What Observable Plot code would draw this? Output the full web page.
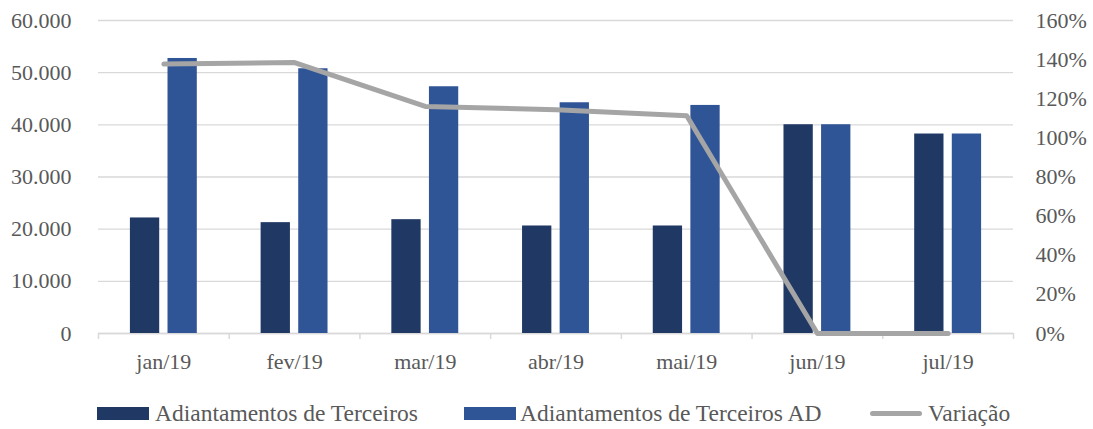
<!DOCTYPE html>
<html>
<head>
<meta charset="utf-8">
<script src="https://cdn.jsdelivr.net/npm/d3@7"></script>
<script src="https://cdn.jsdelivr.net/npm/@observablehq/plot@0.6"></script>
<style>
  body { margin: 0; background: #fff; font-family: "Liberation Serif", serif; }
  #wrap { position: relative; width: 1093px; height: 429px; }
  #legend { position: absolute; left: 0; top: 380px; width: 1093px; height: 49px; color: #595959; font-size: 23.5px; }
  .sw { position: absolute; top: 27px; height: 13px; width: 52px; }
  .ln { position: absolute; top: 31px; height: 5px; width: 52px; border-radius: 3px; }
  .tx { position: absolute; top: 21px; line-height: 24px; white-space: nowrap; }
</style>
</head>
<body>
<div id="wrap">
  <div id="chart"></div>
  <div id="legend"></div>
</div>
<script>
const months = ["jan/19", "fev/19", "mar/19", "abr/19", "mai/19", "jun/19", "jul/19"];
const terceiros = [22150, 21250, 21820, 20610, 20610, 40020, 38240];
const terceirosAD = [52720, 50750, 47300, 44230, 43720, 40020, 38240];
const variacao = [137.7, 138.5, 116.1, 114.4, 111.3, 0, 0];
const leftTicks = [0, 10000, 20000, 30000, 40000, 50000, 60000];
const rightTicks = [0, 20, 40, 60, 80, 100, 120, 140, 160];
const seriesNames = ["Adiantamentos de Terceiros", "Adiantamentos de Terceiros AD", "Variação"];
const colors = ["#203864", "#2f5597", "#a5a5a5"];

const W = 1093, H = 380, mL = 98, mR = 80, mT = 20, mB = 47;
const yMax = 60000, pMax = 160;
const step = (W - mL - mR) / months.length;
const barW = 29.3, gap = 8.3;
const outer = (step - 2 * barW - gap) / 2;

const loc = d3.formatLocale({decimal: ",", thousands: ".", grouping: [3], currency: ["R$", ""]});
const fmt = loc.format(",d");
const toY = p => p / pMax * yMax;

const chart = Plot.plot({
  width: W, height: H,
  marginLeft: mL, marginRight: mR, marginTop: mT, marginBottom: mB,
  x: {type: "band", domain: months, padding: 0, round: false, label: null},
  y: {domain: [0, yMax], label: null},
  style: {fontFamily: "Liberation Serif, serif", fontSize: "22px", color: "#595959", background: "#fff"},
  marks: [
    Plot.gridY(leftTicks, {stroke: "#d9d9d9", strokeOpacity: 1, strokeWidth: 1.3}),
    Plot.ruleY([0], {stroke: "#d9d9d9", strokeWidth: 1.5}),
    Plot.ruleX(months, {x: d => d, dx: -step / 2, y1: 0, y2: 0, insetBottom: -6, stroke: "#d9d9d9", strokeWidth: 1.5}),
    Plot.ruleX([months[months.length - 1]], {x: d => d, dx: step / 2, y1: 0, y2: 0, insetBottom: -6, stroke: "#d9d9d9", strokeWidth: 1.5}),
    Plot.barY(months, {x: d => d, y: (d, i) => terceiros[i], fill: colors[0], insetLeft: outer, insetRight: outer + barW + gap}),
    Plot.barY(months, {x: d => d, y: (d, i) => terceirosAD[i], fill: colors[1], insetLeft: outer + barW + gap, insetRight: outer}),
    Plot.lineY(months, {x: d => d, y: (d, i) => toY(variacao[i]), stroke: colors[2], strokeWidth: 5, strokeLinecap: "round", strokeLinejoin: "round"}),
    Plot.axisY(leftTicks, {anchor: "left", tickSize: 0, tickPadding: 27, tickFormat: fmt, label: null}),
    Plot.axisY(rightTicks.map(toY), {anchor: "right", tickSize: 0, tickPadding: 22, tickFormat: d => Math.round(d / yMax * pMax) + "%", label: null}),
    Plot.axisX({tickSize: 0, tickPadding: 20, label: null})
  ]
});
document.getElementById("chart").appendChild(chart);

const legend = document.getElementById("legend");
const items = [
  {kind: "sw", color: colors[0], sx: 97, tx: 155, name: seriesNames[0]},
  {kind: "sw", color: colors[1], sx: 464, tx: 520, name: seriesNames[1]},
  {kind: "ln", color: colors[2], sx: 870, tx: 928, name: seriesNames[2]}
];
for (const it of items) {
  const s = document.createElement("div");
  s.className = it.kind;
  s.style.left = it.sx + "px";
  s.style.background = it.color;
  legend.appendChild(s);
  const t = document.createElement("div");
  t.className = "tx";
  t.style.left = it.tx + "px";
  t.textContent = it.name;
  legend.appendChild(t);
}
</script>
</body>
</html>
